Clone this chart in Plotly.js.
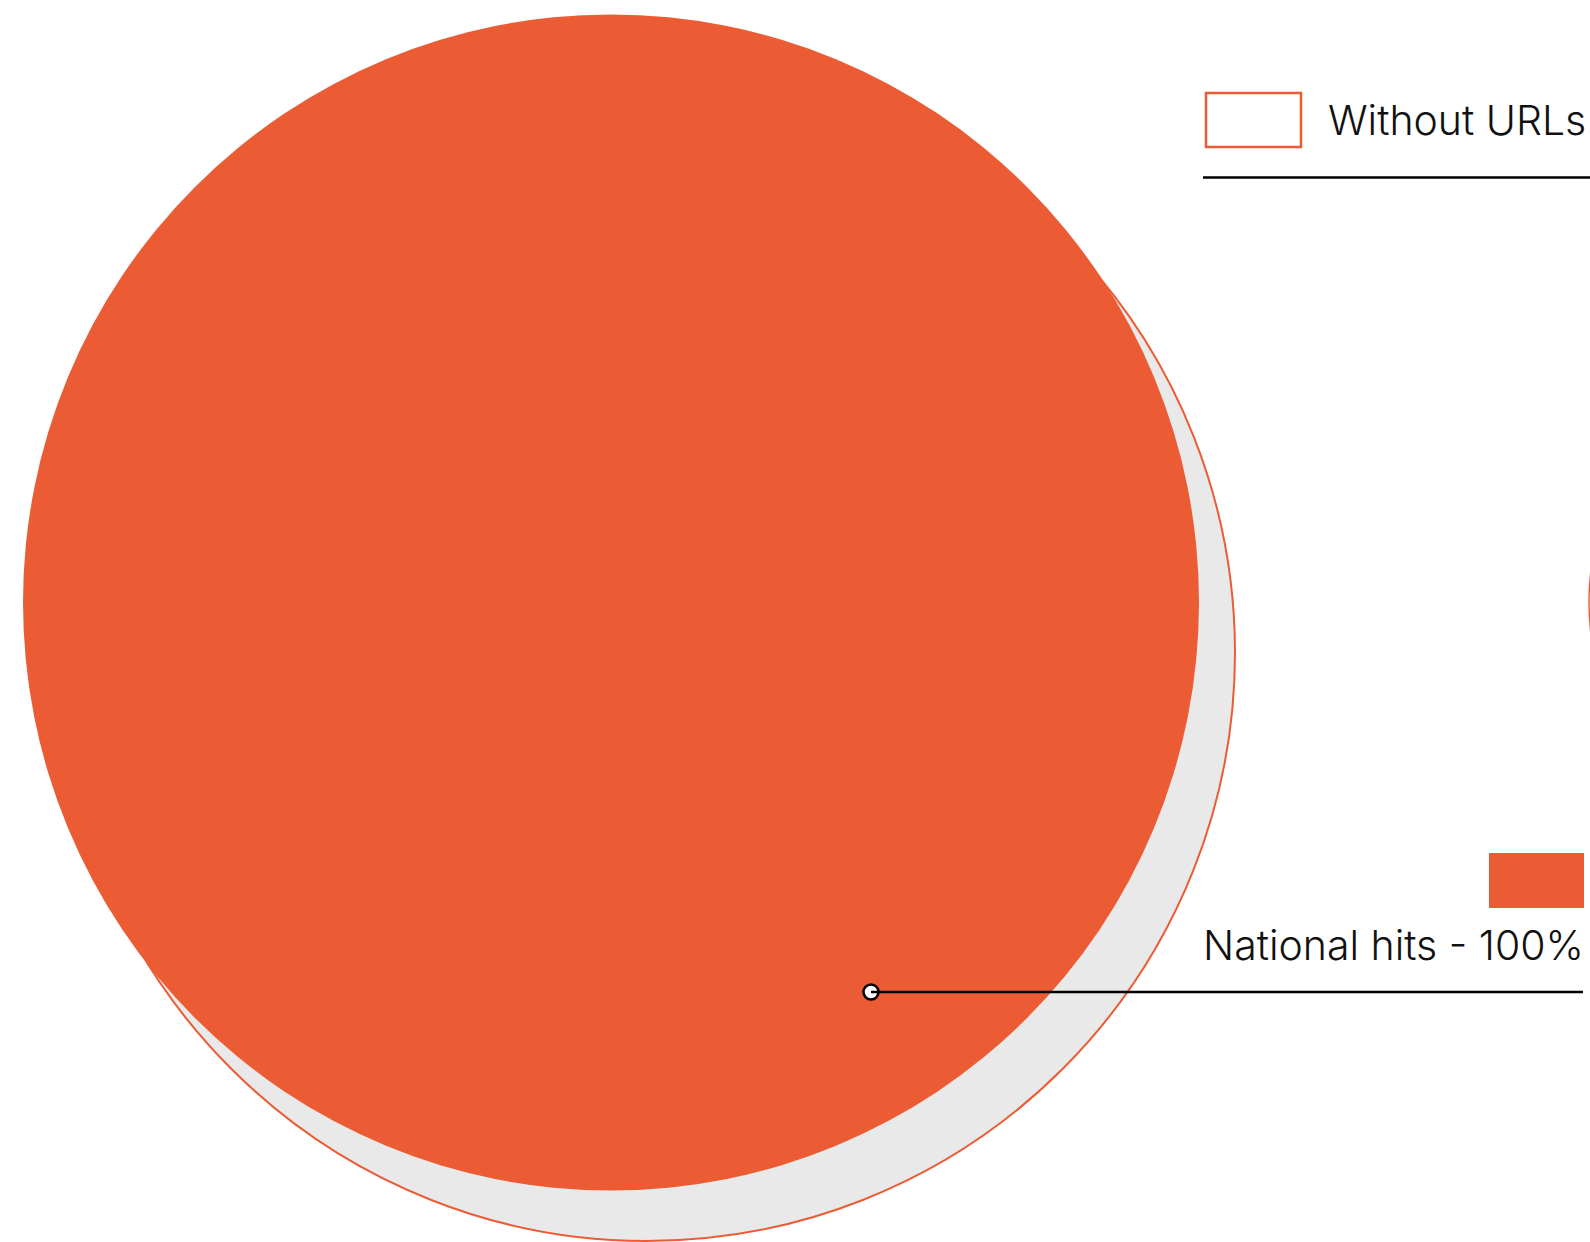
<!DOCTYPE html>
<html>
<head>
<meta charset="utf-8">
<script src="https://cdn.plot.ly/plotly-3.0.1.min.js"></script>
<style>html,body{margin:0;padding:0;background:#fff;}#chart{width:1590px;height:1242px;}</style>
</head>
<body>
<div id="chart"></div>
<script>
// Data
const categories = ["Without URLs", "National hits"];
const shares = [100, 100];            // percent of hits
const legendLabels = ["Without URLs", "National hits - 100%"];

// Styling / layout
const ORANGE = "#EB5C34";
const GREY = "#E9E9E9";
const W = 1590, H = 1242;
const RMAX = 588;
const radius = v => RMAX * Math.sqrt(v / 100);

// circle centres (layout positions)
const centres = {
  "Without URLs": [647, 653],
  "National hits": [611, 602.5]
};

const shapes = [];
function circle(cx, cy, r, fill, lineColor, lineWidth) {
  shapes.push({type: "circle", xref: "x", yref: "y", layer: "below",
    x0: cx - r, x1: cx + r, y0: cy - r, y1: cy + r,
    fillcolor: fill, line: {color: lineColor, width: lineWidth}});
}
// "Without URLs" circle (grey, orange outline)
const rA = radius(shares[0]);
circle(centres["Without URLs"][0], centres["Without URLs"][1], rA, GREY, ORANGE, 2);
// "National hits" circle (solid orange)
const rB = radius(shares[1]);
circle(centres["National hits"][0], centres["National hits"][1], rB, ORANGE, ORANGE, 0);
// partially visible neighbour circle at the right edge
circle(1590 + 250, 602, 251, "rgba(0,0,0,0)", ORANGE, 1.5);

// legend swatches
shapes.push({type: "rect", xref: "x", yref: "y", x0: 1206, x1: 1301, y0: 93, y1: 147,
  fillcolor: "#fff", line: {color: ORANGE, width: 2.5}});
shapes.push({type: "line", xref: "x", yref: "y", x0: 1203, x1: 1590, y0: 177.5, y1: 177.5,
  line: {color: "#000", width: 2.5}});
shapes.push({type: "rect", xref: "x", yref: "y", x0: 1489, x1: 1584, y0: 853, y1: 908,
  fillcolor: ORANGE, line: {width: 0}});
// leader line
shapes.push({type: "line", xref: "x", yref: "y", x0: 871, x1: 1583, y0: 992, y1: 992,
  line: {color: "#000", width: 2.5}});

const font = {family: "Inter, 'Open Sans', sans-serif", size: 41, color: "#111", weight: 300};
const annotations = [
  {x: 1326, y: 120, xref: "x", yref: "y", text: legendLabels[0], showarrow: false,
   xanchor: "left", yanchor: "middle", font: font},
  {x: 1586, y: 945, xref: "x", yref: "y", text: legendLabels[1], showarrow: false,
   xanchor: "right", yanchor: "middle", font: font}
];

const traces = [{
  type: "scatter", mode: "markers", x: [871], y: [992],
  marker: {size: 15, color: "#fff", line: {color: "#000", width: 2.5}},
  hoverinfo: "skip", showlegend: false
}];

const layout = {
  width: W, height: H,
  margin: {l: 0, r: 0, t: 0, b: 0, pad: 0},
  paper_bgcolor: "#fff", plot_bgcolor: "#fff",
  xaxis: {range: [0, W], visible: false, fixedrange: true},
  yaxis: {range: [H, 0], visible: false, fixedrange: true},
  shapes: shapes, annotations: annotations, showlegend: false
};

Plotly.newPlot("chart", traces, layout, {displayModeBar: false, staticPlot: true});
</script>
</body>
</html>
